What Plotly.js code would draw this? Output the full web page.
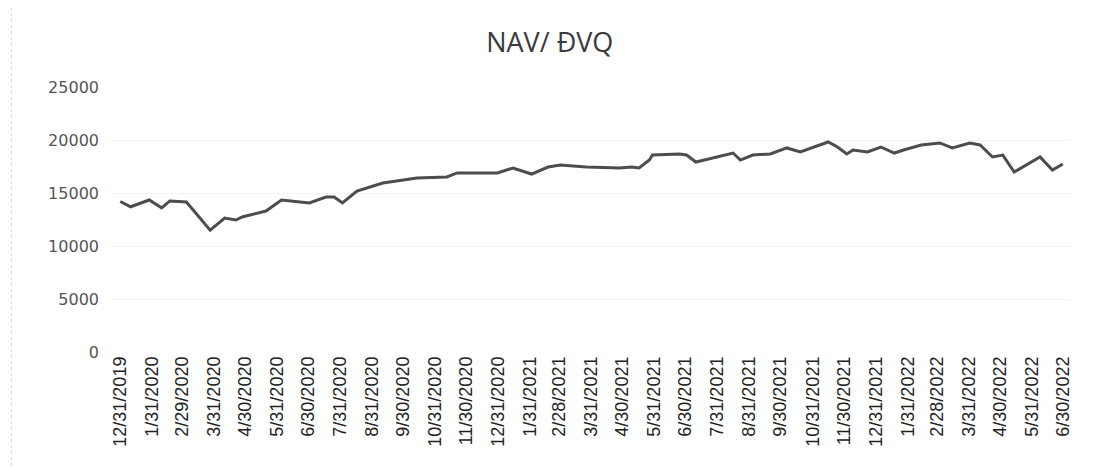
<!DOCTYPE html>
<html>
<head>
<meta charset="utf-8">
<script src="https://cdn.plot.ly/plotly-3.0.1.min.js"></script>
<style>html,body{margin:0;padding:0;background:#fff;}#chart{width:1093px;height:470px;}</style>
</head>
<body>
<div id="chart"></div>
<script>
const dates = ['2019-12-31','2020-01-10','2020-01-28','2020-02-09','2020-02-17','2020-03-04','2020-03-27','2020-04-10','2020-04-21','2020-04-27','2020-05-20','2020-06-04','2020-07-01','2020-07-17','2020-07-25','2020-08-02','2020-08-16','2020-09-10','2020-10-13','2020-11-11','2020-11-21','2020-12-30','2021-01-14','2021-02-01','2021-02-17','2021-03-01','2021-03-26','2021-04-27','2021-05-09','2021-05-16','2021-05-26','2021-05-29','2021-06-24','2021-07-01','2021-07-10','2021-07-26','2021-08-15','2021-08-22','2021-09-03','2021-09-20','2021-10-06','2021-10-19','2021-11-01','2021-11-15','2021-11-24','2021-12-03','2021-12-09','2021-12-23','2022-01-05','2022-01-18','2022-01-27','2022-02-13','2022-03-03','2022-03-15','2022-04-01','2022-04-11','2022-04-23','2022-05-03','2022-05-14','2022-05-22','2022-06-08','2022-06-20','2022-06-30'];
const nav = [14200,13700,14340,13600,14250,14150,11500,12640,12450,12740,13300,14340,14060,14620,14620,14060,15190,15940,16420,16510,16890,16890,17360,16790,17450,17640,17450,17360,17450,17360,18110,18580,18680,18580,17920,18300,18770,18110,18580,18680,19250,18870,19340,19810,19340,18680,19060,18870,19340,18770,19060,19530,19720,19250,19720,19530,18400,18580,16980,17450,18400,17170,17740];
const tickDates = ['2019-12-31','2020-01-31','2020-02-29','2020-03-31','2020-04-30','2020-05-31','2020-06-30','2020-07-31','2020-08-31','2020-09-30','2020-10-31','2020-11-30','2020-12-31','2021-01-31','2021-02-28','2021-03-31','2021-04-30','2021-05-31','2021-06-30','2021-07-31','2021-08-31','2021-09-30','2021-10-31','2021-11-30','2021-12-31','2022-01-31','2022-02-28','2022-03-31','2022-04-30','2022-05-31','2022-06-30'];
const tickLabels = ['12/31/2019','1/31/2020','2/29/2020','3/31/2020','4/30/2020','5/31/2020','6/30/2020','7/31/2020','8/31/2020','9/30/2020','10/31/2020','11/30/2020','12/31/2020','1/31/2021','2/28/2021','3/31/2021','4/30/2021','5/31/2021','6/30/2021','7/31/2021','8/31/2021','9/30/2021','10/31/2021','11/30/2021','12/31/2021','1/31/2022','2/28/2022','3/31/2022','4/30/2022','5/31/2022','6/30/2022'];
const yTicks = [0,5000,10000,15000,20000,25000];

Plotly.newPlot('chart', [{
  x: dates, y: nav, type: 'scatter', mode: 'lines',
  line: {color: '#4d4d4d', width: 3}
}], {
  width: 1093, height: 470,
  margin: {l: 112, r: 23, t: 87, b: 118},
  paper_bgcolor: '#fff', plot_bgcolor: '#fff',
  showlegend: false,
  title: {text: 'NAV/ ĐVQ', x: 0.503, xanchor: 'center', y: 0.91, yanchor: 'middle',
          font: {family: 'Open Sans, Liberation Sans, sans-serif', size: 27, color: '#3a3a3a'}},
  xaxis: {type: 'date', range: ['2019-12-23','2022-07-07'], tickvals: tickDates, ticktext: tickLabels,
          tickangle: -90, showgrid: false, zeroline: false, showline: false, ticks: '',
          tickfont: {family: 'Liberation Sans, sans-serif', size: 18, color: '#222'}},
  yaxis: {range: [0, 25000], tickvals: yTicks, ticktext: yTicks.map(String), showgrid: true,
          gridcolor: '#f2f2f2', zeroline: false, showline: false, ticks: '', ticklabelstandoff: 12,
          tickfont: {family: 'DejaVu Sans, sans-serif', size: 16, color: '#555'}},
  shapes: [{type: 'line', xref: 'paper', yref: 'paper', x0: -0.105, x1: -0.105, y0: -0.43, y1: 1.3,
            line: {color: '#d8d8d8', width: 1, dash: 'dot'}}]
}, {displayModeBar: false, staticPlot: true});
</script>
</body>
</html>
